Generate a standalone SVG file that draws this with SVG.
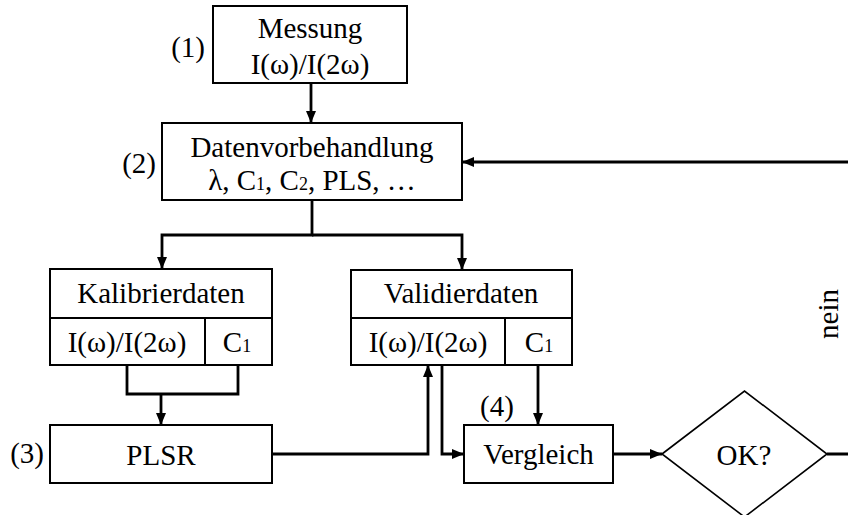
<svg xmlns="http://www.w3.org/2000/svg" width="848" height="515" viewBox="0 0 848 515">
  <style>
    text { font-family: "Liberation Serif", "Times New Roman", serif; font-size: 29px; fill: #000; }
    .c { text-anchor: middle; }
    .e { text-anchor: end; }
    .sub { font-size: 18px; }
    .box { fill: #fff; stroke: #000; stroke-width: 2; }
    .div { fill: none; stroke: #000; stroke-width: 2; }
    .dia { fill: #fff; stroke: #000; stroke-width: 1.6; }
    .wire { fill: none; stroke: #000; stroke-width: 2.8; stroke-linejoin: miter; }
  </style>
  <defs>
    <marker id="arrow" viewBox="0 0 12 10" refX="12" refY="5" markerWidth="12" markerHeight="10" markerUnits="userSpaceOnUse" orient="auto">
      <path d="M0,0 L12,5 L0,10 Z" fill="#000"/>
    </marker>
  </defs>

  <rect width="848" height="515" fill="#fff"/>

  <!-- connectors -->
  <g id="connectors">
    <path class="wire" d="M311,83 V123" marker-end="url(#arrow)"/>
    <path class="wire" d="M312,200 V235 H162 V269" marker-end="url(#arrow)"/>
    <path class="wire" d="M312,235 H462 V270" marker-end="url(#arrow)"/>
    <path class="wire" d="M127,365 V394 H238 V365"/>
    <path class="wire" d="M161,394 V425" marker-end="url(#arrow)"/>
    <path class="wire" d="M272,454 H428 V365" marker-end="url(#arrow)"/>
    <path class="wire" d="M442,365 V454 H464" marker-end="url(#arrow)"/>
    <path class="wire" d="M538,365 V425" marker-end="url(#arrow)"/>
    <path class="wire" d="M613,454 H662" marker-end="url(#arrow)"/>
    <!-- "nein" loop back to data preprocessing -->
    <path class="wire" d="M827,454 H870 V162 H462" marker-end="url(#arrow)"/>
  </g>

  <!-- (1) measurement -->
  <g id="messung">
    <rect class="box" x="213" y="6" width="194" height="77"/>
    <text class="c" x="310" y="38">Messung</text>
    <text class="c" x="310" y="74">I(ω)/I(2ω)</text>
    <text class="e" x="205" y="57">(1)</text>
  </g>

  <!-- (2) preprocessing -->
  <g id="datenvorbehandlung">
    <rect class="box" x="162" y="123" width="300" height="77"/>
    <text class="c" x="312" y="157">Datenvorbehandlung</text>
    <text class="c" x="312" y="190">λ, C<tspan class="sub">1</tspan>, C<tspan class="sub">2</tspan>, PLS, …</text>
    <text class="e" x="156" y="173">(2)</text>
  </g>

  <!-- calibration data -->
  <g id="kalibrierdaten">
    <rect class="box" x="50" y="269" width="222" height="96"/>
    <path class="div" d="M50,318 H272 M205,318 V365"/>
    <text class="c" x="161" y="303">Kalibrierdaten</text>
    <text class="c" x="127" y="352">I(ω)/I(2ω)</text>
    <text class="c" x="237" y="352">C<tspan class="sub">1</tspan></text>
  </g>

  <!-- validation data -->
  <g id="validierdaten">
    <rect class="box" x="351" y="270" width="221" height="95"/>
    <path class="div" d="M351,318 H572 M505,318 V365"/>
    <text class="c" x="461" y="303">Validierdaten</text>
    <text class="c" x="428" y="352">I(ω)/I(2ω)</text>
    <text class="c" x="539" y="352">C<tspan class="sub">1</tspan></text>
  </g>

  <!-- (3) regression -->
  <g id="plsr">
    <rect class="box" x="50" y="425" width="222" height="58"/>
    <text class="c" x="161" y="465">PLSR</text>
    <text class="e" x="44" y="463">(3)</text>
  </g>

  <!-- (4) comparison -->
  <g id="vergleich">
    <rect class="box" x="464" y="425" width="149" height="58"/>
    <text class="c" x="538.5" y="464">Vergleich</text>
    <text x="480" y="416">(4)</text>
  </g>

  <!-- decision -->
  <g id="ok">
    <polygon class="dia" points="662,454 744.5,391 827,454 744.5,517"/>
    <text class="c" x="744" y="465">OK?</text>
  </g>

  <g id="nein-label">
    <text class="c" transform="translate(838,314) rotate(-90)">nein</text>
  </g>
</svg>
